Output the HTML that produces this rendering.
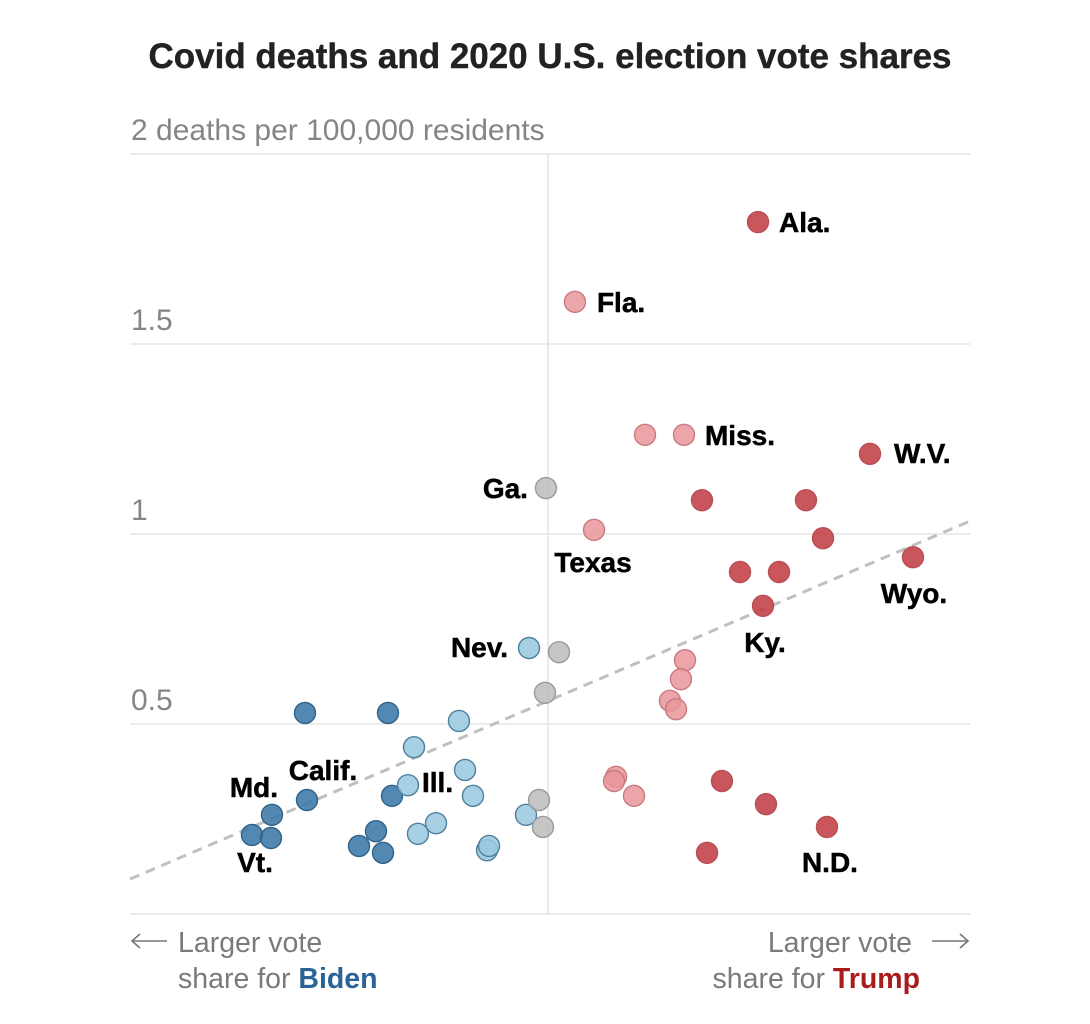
<!DOCTYPE html>
<html lang="en">
<head>
<meta charset="utf-8">
<title>Covid deaths and 2020 U.S. election vote shares</title>
<style>
  html, body { margin: 0; padding: 0; background: #fff; }
  svg { display: block; font-family: "Liberation Sans", sans-serif; }
  .tick { font-size: 30px; fill: #858585; }
  .note { font-size: 28.5px; fill: #7a7a7a; }
  .label { font-size: 28px; font-weight: bold; fill: #000; stroke: #000; stroke-width: 0.5px; }
</style>
</head>
<body>
<svg id="chart" xmlns="http://www.w3.org/2000/svg" width="1090" height="1024" viewBox="0 0 1090 1024">
  <text x="550" y="68" text-anchor="middle" font-size="35" font-weight="bold" fill="#222" stroke="#222" stroke-width="0.4" textLength="803" lengthAdjust="spacing">Covid deaths and 2020 U.S. election vote shares</text>
  <g id="grid"></g>
  <g id="ticks"></g>
  <line x1="548" x2="548" y1="154" y2="914" stroke="#e4e4e4" stroke-width="1.5"/>
  <g id="trend"></g>
  <g id="points"></g>
  <g id="labels"></g>

  <g>
    <path d="M167 941H132M140 934L132 941L140 948" fill="none" stroke="#777" stroke-width="1.6"/>
    <text class="note" x="178" y="952">Larger vote</text>
    <text class="note" x="178" y="988">share for <tspan font-weight="bold" fill="#2a6496">Biden</tspan></text>
  </g>
  <g>
    <path d="M932 941H968M960 934L968 941L960 948" fill="none" stroke="#777" stroke-width="1.6"/>
    <text class="note" x="912" y="952" text-anchor="end">Larger vote</text>
    <text class="note" x="920" y="988" text-anchor="end">share for <tspan font-weight="bold" fill="#a81c1c">Trump</tspan></text>
  </g>
</svg>

<script>
// Y axis: deaths per 100,000 residents
const yTicks = [0, 0.5, 1, 1.5, 2];
const yTickLabels = ["", "0.5", "1", "1.5", "2 deaths per 100,000 residents"];

// Trend line endpoints (vote margin, deaths)
const trendX = [-49.76, 50.24];
const trendY = [0.092, 1.034];

// Vote margin (negative = Biden, positive = Trump) and deaths, per series
const darkRedX = [25.0, 38.33, 18.33, 30.71, 32.74, 43.45, 22.86, 27.5, 25.6, 20.71, 25.95, 33.21, 18.93];
const darkRedY = [1.821, 1.211, 1.089, 1.089, 0.989, 0.939, 0.9, 0.9, 0.811, 0.35, 0.289, 0.229, 0.161];
const darkRedNames = ["Ala.", "W.V.", "", "", "", "Wyo.", "", "", "Ky.", "", "", "N.D.", ""];

const lightRedX = [3.21, 11.55, 16.19, 5.48, 16.31, 15.83, 14.52, 15.24, 8.1, 7.86, 10.24];
const lightRedY = [1.611, 1.261, 1.261, 1.011, 0.668, 0.618, 0.561, 0.539, 0.361, 0.35, 0.311];
const lightRedNames = ["Fla.", "", "Miss.", "Texas", "", "", "", "", "", "", ""];

const grayX = [-0.24, 1.31, -0.36, -1.07, -0.6];
const grayY = [1.121, 0.689, 0.582, 0.3, 0.229];
const grayNames = ["Ga.", "", "", "", ""];

const lightBlueX = [-2.26, -10.6, -15.95, -9.88, -16.67, -8.93, -2.62, -13.33, -15.48, -7.26, -7.02];
const lightBlueY = [0.7, 0.508, 0.439, 0.379, 0.339, 0.311, 0.261, 0.239, 0.211, 0.168, 0.179];
const lightBlueNames = ["Nev.", "", "", "", "", "", "", "", "", "", ""];

const darkBlueX = [-28.93, -19.05, -28.69, -18.57, -32.86, -35.24, -32.98, -20.48, -22.5, -19.64];
const darkBlueY = [0.529, 0.529, 0.3, 0.311, 0.261, 0.208, 0.2, 0.218, 0.179, 0.161];
const darkBlueNames = ["", "", "Calif.", "Ill.", "Md.", "Vt.", "", "", "", ""];

const SVG_NS = "http://www.w3.org/2000/svg";
const xScale = function (v) { return 548 + v * 8.4; };
const yScale = function (v) { return 914 - v * 380; };

const seriesList = [
  { key: "dark-blue", xs: darkBlueX, ys: darkBlueY, names: darkBlueNames, fill: "#3473a5", stroke: "#2f6288" },
  { key: "light-blue", xs: lightBlueX, ys: lightBlueY, names: lightBlueNames, fill: "#99c8e0", stroke: "#4f7f9c" },
  { key: "gray", xs: grayX, ys: grayY, names: grayNames, fill: "#bcbcbc", stroke: "#9a9a9a" },
  { key: "light-red", xs: lightRedX, ys: lightRedY, names: lightRedNames, fill: "#e99599", stroke: "#c9797f" },
  { key: "dark-red", xs: darkRedX, ys: darkRedY, names: darkRedNames, fill: "#c0383f", stroke: "#b94f55" }
];

// Label placement relative to its point: [dx, dy, anchor]
const labelPlacement = {
  "Ala.": [21, 10, "start"], "Fla.": [22, 10, "start"], "Miss.": [21, 10, "start"],
  "W.V.": [24, 9, "start"], "Ga.": [-18, 10, "end"], "Texas": [-1, 42, "middle"],
  "Wyo.": [1, 46, "middle"], "Ky.": [2, 46, "middle"], "Nev.": [-21, 9, "end"],
  "Ill.": [30, -4, "start"], "Calif.": [16, -20, "middle"], "Md.": [-18, -18, "middle"],
  "Vt.": [3, 37, "middle"], "N.D.": [3, 45, "middle"]
};

const gridGroup = document.getElementById("grid");
const tickGroup = document.getElementById("ticks");
yTicks.forEach(function (t, i) {
  const ln = document.createElementNS(SVG_NS, "line");
  
  
  ln.setAttribute("x1", 130);
  ln.setAttribute("x2", 970);
  ln.setAttribute("y1", yScale(t));
  ln.setAttribute("y2", yScale(t));
  ln.setAttribute("stroke", "#e6e6e6");
  ln.setAttribute("stroke-width", 1.5);
  gridGroup.appendChild(ln);
  if (yTickLabels[i]) {
    const tx = document.createElementNS(SVG_NS, "text");
    
    
    tx.setAttribute("class", "tick");
    tx.setAttribute("x", 131);
    tx.setAttribute("y", yScale(t) - 14);
    tx.textContent = yTickLabels[i];
    tickGroup.appendChild(tx);
  }
});

const trendLine = document.createElementNS(SVG_NS, "line");


trendLine.setAttribute("x1", xScale(trendX[0]));
trendLine.setAttribute("y1", yScale(trendY[0]));
trendLine.setAttribute("x2", xScale(trendX[1]));
trendLine.setAttribute("y2", yScale(trendY[1]));
trendLine.setAttribute("stroke", "#c0c0c0");
trendLine.setAttribute("stroke-width", 3);
trendLine.setAttribute("stroke-dasharray", "10 7");
document.getElementById("trend").appendChild(trendLine);

const pointGroup = document.getElementById("points");
const labelGroup = document.getElementById("labels");
seriesList.forEach(function (s) {
  s.xs.forEach(function (xv, i) {
    const c = document.createElementNS(SVG_NS, "circle");
    
    
    c.setAttribute("data-series", s.key);
    c.setAttribute("cx", xScale(xv));
    c.setAttribute("cy", yScale(s.ys[i]));
    c.setAttribute("r", 10.5);
    c.setAttribute("fill", s.fill);
    c.setAttribute("fill-opacity", 0.85);
    c.setAttribute("stroke", s.stroke);
    c.setAttribute("stroke-width", 1.4);
    pointGroup.appendChild(c);
    const name = s.names[i];
    if (name) {
      const p = labelPlacement[name];
      const t = document.createElementNS(SVG_NS, "text");
      
      
      t.setAttribute("class", "label");
      t.setAttribute("x", xScale(xv) + p[0]);
      t.setAttribute("y", yScale(s.ys[i]) + p[1]);
      t.setAttribute("text-anchor", p[2]);
      t.textContent = name;
      labelGroup.appendChild(t);
    }
  });
});
</script>
</body>
</html>
